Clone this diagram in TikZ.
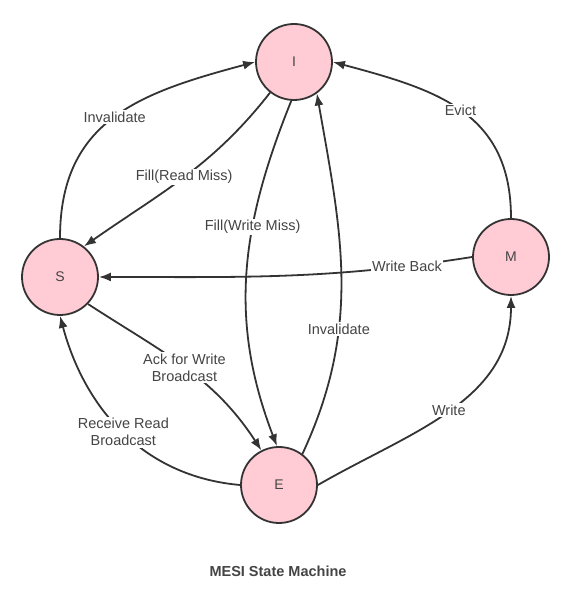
\documentclass[tikz,border=0pt]{standalone}
\usepackage{fontspec}
\setmainfont{Liberation Sans}
\usepackage{tikz}
\usetikzlibrary{arrows.meta}
\def\rad{38pt}
\def\lw{1.8pt}
\definecolor{statefill}{HTML}{FFCCD5}
\definecolor{edgegray}{HTML}{333333}
\definecolor{textgray}{HTML}{444444}

\begin{document}
\begin{tikzpicture}[x=1pt,y=1pt]
    \tikzset{%
      mesistate/.style={%
        circle, draw=edgegray, line width=\lw, fill=statefill, minimum size=2*\rad,
        inner sep=0pt, text=textgray, font=\fontsize{14}{16}\selectfont},
      trans/.style={%
        draw=edgegray, line width=\lw, -{Latex[length=12pt, width=9pt]}},
      lbl/.style={%
        fill=white, inner sep=1.5pt, text=textgray, align=center,
        font=\fontsize{14.5}{17}\selectfont}}

   % \draw[help lines,step=20] (0,0) grid (580,604);
    \useasboundingbox (0,0) rectangle (580,604);
    \foreach \n/\x/\y in {I/294/542, S/60/327, M/511/347, E/279/119}
      \node[mesistate] (\n) at (\x,\y) {\n};

    \draw[trans] (S.90) to[out=90, in=195, looseness=1.15] node[lbl]{Invalidate} (I.180);

    \draw[trans] (I.232) to[out=232, in=35] node[lbl]{Fill(Read Miss)} (S.52);

    \draw[trans] (I.266) to[out=248, in=111] node[lbl, pos=0.36]{Fill(Write Miss)} (E.93);

    \draw[trans] (E.53) to[out=65, in=-80] node[lbl, pos=0.35]{Invalidate} (I.306);

    \draw[trans] (M.180) to[out=189, in=0] node[lbl, pos=0.16]{Write Back} (S.0);

    \draw[trans] (M.90) to[out=90, in=-15, looseness=1.15] node[lbl]{Evict} (I.0);

    \draw[trans] (E.0) to[out=30, in=-90] node[lbl]{Write} (M.270);

    \draw[trans] (S.316) to[out=-33, in=123] node[lbl]{Ack for Write\\Broadcast} (E.117);

    \draw[trans] (E.180) to[out=175, in=-75] node[lbl]{Receive Read\\Broadcast} (S.270);

    \node[text=textgray, font=\bfseries\fontsize{14.5}{17}\selectfont] (title) at (278,33) {MESI State Machine};
  \end{tikzpicture}
\end{document}
